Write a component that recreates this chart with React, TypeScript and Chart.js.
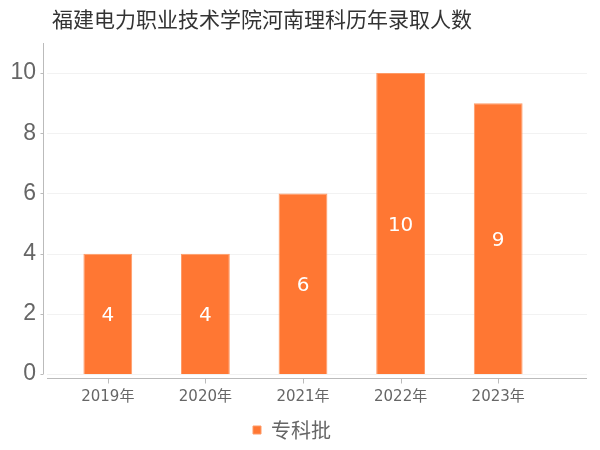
import React, { useEffect, useRef } from "react";
import { Chart, registerables } from "chart.js";

Chart.register(...registerables);

const TITLE = "福建电力职业技术学院河南理科历年录取人数";
const categories = ["2019年", "2020年", "2021年", "2022年", "2023年"];
const seriesName = "专科批";
const values = [4, 4, 6, 10, 9];
const yTicks = [0, 2, 4, 6, 8, 10];

const FONT = '"DejaVu Sans", "Noto Sans CJK SC", sans-serif';
const NUM = '"Liberation Sans", "DejaVu Sans", sans-serif';
const CJK = '"Noto Sans CJK SC", "DejaVu Sans", sans-serif';
const BAR = "#ff7733";
const PAD_BOTTOM = 0;
const PLOT_BOTTOM = 374;

const decor = {
  id: "decor",
  beforeDatasetsDraw(chart: any) {
    const { ctx, chartArea, scales } = chart;
    const y = scales.y;
    const x = scales.x;
    ctx.save();
    // grid lines
    ctx.strokeStyle = "#f2f2f2";
    ctx.lineWidth = 1;
    yTicks.forEach((t) => {
      const py = Math.round(y.getPixelForValue(t)) + 0.5;
      ctx.beginPath();
      ctx.moveTo(chartArea.left - 12, py);
      ctx.lineTo(chartArea.right + 40, py);
      ctx.stroke();
    });
    // y axis line + small ticks
    ctx.strokeStyle = "#bbbbbb";
    const ax = chartArea.left - 16 + 0.5;
    ctx.beginPath();
    ctx.moveTo(ax, chartArea.top);
    ctx.lineTo(ax, chartArea.bottom);
    ctx.stroke();
    yTicks.forEach((t) => {
      const py = Math.round(y.getPixelForValue(t)) + 0.5;
      ctx.beginPath();
      ctx.moveTo(ax - 3, py);
      ctx.lineTo(ax, py);
      ctx.stroke();
    });
    // x axis line
    const ay = chartArea.bottom + 4 + 0.5;
    ctx.beginPath();
    ctx.moveTo(chartArea.left - 12, ay);
    ctx.lineTo(chartArea.right + 40, ay);
    ctx.stroke();
    // tick marks
    categories.forEach((_, i) => {
      const px = Math.round(x.getPixelForValue(i)) + 0.5;
      ctx.beginPath();
      ctx.moveTo(px, ay);
      ctx.lineTo(px, ay + 5);
      ctx.stroke();
    });
    ctx.restore();
  },
  afterDatasetsDraw(chart: any) {
    const { ctx } = chart;
    const meta = chart.getDatasetMeta(0);
    ctx.save();
    ctx.fillStyle = "#ffffff";
    ctx.font = `20px ${FONT}`;
    ctx.textAlign = "center";
    ctx.textBaseline = "middle";
    meta.data.forEach((bar: any, i: number) => {
      const { x, y, base } = bar.getProps(["x", "y", "base"], true);
      ctx.fillText(String(values[i]), x, (y + base) / 2 + 2);
    });
    // title
    ctx.fillStyle = "#333333";
    ctx.font = `21px ${CJK}`;
    ctx.textAlign = "center";
    ctx.textBaseline = "middle";
    ctx.fillText(TITLE, 262, 19);
    ctx.restore();
  },
};

export default function App() {
  const ref = useRef<HTMLCanvasElement | null>(null);
  useEffect(() => {
    if (!ref.current) return;
    const chart = new Chart(ref.current, {
      type: "bar",
      data: {
        labels: categories,
        datasets: [
          {
            label: seriesName,
            data: values,
            backgroundColor: BAR,
            borderColor: "#ff9a66",
            borderWidth: 1,
            categoryPercentage: 1,
            barPercentage: 0.5,
          },
        ],
      },
      options: {
        animation: false,
        responsive: false,
        maintainAspectRatio: false,
        layout: { padding: { top: 43, right: 16, left: 0, bottom: PAD_BOTTOM } },
        plugins: {
          title: { display: false },
          tooltip: { enabled: false },
          legend: {
            position: "bottom",
            labels: {
              boxWidth: 8,
              boxHeight: 8,
              color: "#666666",
              font: { family: CJK, size: 20 },
              padding: 4,
            },
          },
        },
        scales: {
          x: {
            grid: { display: false, drawTicks: false },
            border: { display: false },
            ticks: { color: "#666666", font: { family: FONT, size: 15 }, padding: 14 },
            afterFit(scale: any) {
              const lh = scale.chart.legend ? scale.chart.legend.height : 40;
              scale.height = 450 - PAD_BOTTOM - lh - PLOT_BOTTOM;
            },
          },
          y: {
            min: 0,
            max: 11,
            grid: { display: false, drawTicks: false },
            border: { display: false },
            afterBuildTicks(scale: any) {
              scale.ticks = yTicks.map((v) => ({ value: v }));
            },
            ticks: { color: "#666666", font: { family: NUM, size: 23 }, padding: 23 },
            afterFit(scale: any) {
              scale.width = 59;
            },
          },
          yRight: {
            type: "linear",
            position: "right",
            display: true,
            grid: { display: false, drawTicks: false },
            border: { display: false },
            ticks: { display: false },
            afterFit(scale: any) {
              scale.width = 37;
            },
          },
        },
      },
      plugins: [decor],
    });
    return () => chart.destroy();
  }, []);
  return (
    <div style={{ position: "fixed", left: 0, top: 0, width: 600, height: 450, background: "#fff" }}>
      <canvas ref={ref} width={600} height={450} style={{ display: "block" }} />
    </div>
  );
}
